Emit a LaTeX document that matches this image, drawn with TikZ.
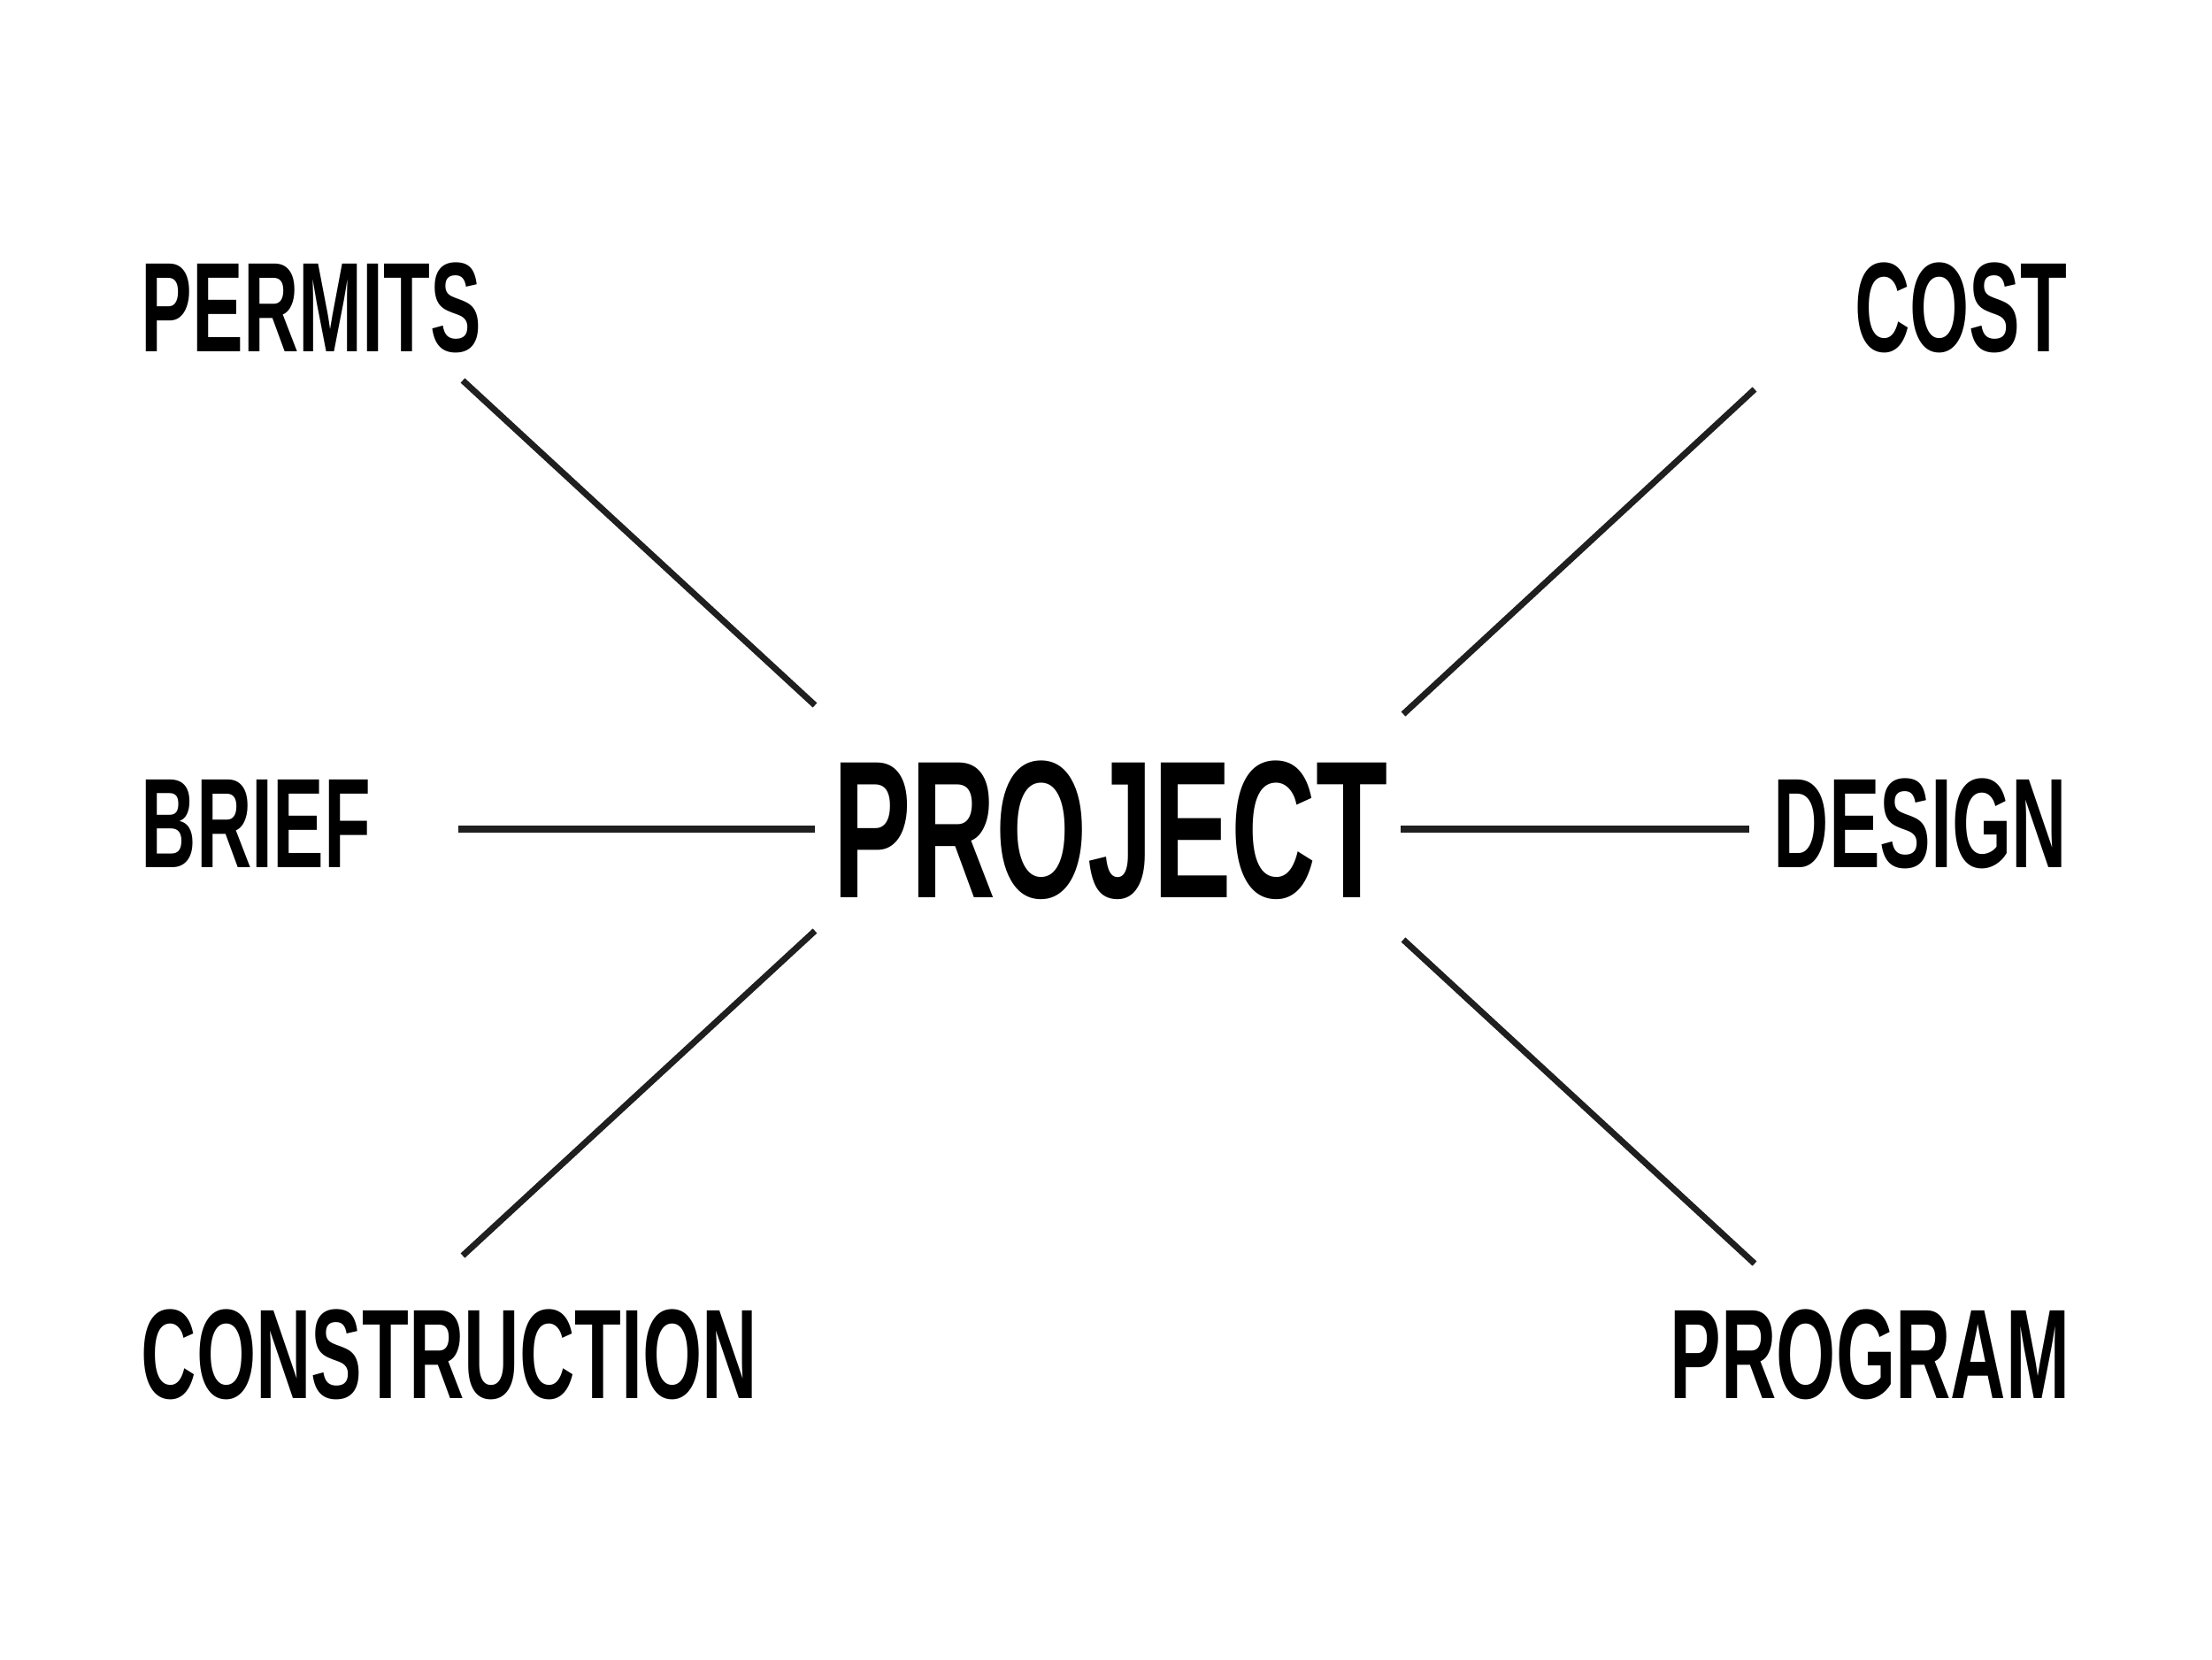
\documentclass[tikz,border=0pt]{standalone}
\usepackage{fontspec}
\newfontfamily\labelfont[FakeStretch=0.6]{Liberation Sans}
\usetikzlibrary{positioning}
\tikzset{
  lbl/.style={font=\labelfont\bfseries\fontsize{41}{41}\selectfont, inner sep=0pt},
  hub/.style={font=\labelfont\bfseries\fontsize{63}{63}\selectfont, inner sep=0pt},
  spoke/.style={line width=2pt, draw=black!88, line cap=butt}
}
\begin{document}
\begin{tikzpicture}
        \fill[white] (0,0) rectangle (25,18.75);
        \useasboundingbox (0,0) rectangle (25,18.75);
        % Labels
        \node[hub] (project) at (12.55,9.37) {PROJECT};
        \node[lbl, anchor=west] (permits) at (1.59,15.27) {PERMITS};
        \node[lbl, anchor=west] (brief) at (1.59,9.44) {BRIEF};
        \node[lbl, anchor=west] (construction) at (1.59,3.44) {CONSTRUCTION};
        \node[lbl, anchor=east] (cost) at (23.37,15.27) {COST};
        \node[lbl, anchor=east] (design) at (23.37,9.44) {DESIGN};
        \node[lbl, anchor=east] (program) at (23.40,3.44) {PROGRAM};
        % Spoke ends
        \coordinate (permits-out) at (5.23,14.45);
        \coordinate (permits-in) at (9.21,10.78);
        \coordinate (brief-out) at (5.18,9.38);
        \coordinate (brief-in) at (9.21,9.38);
        \coordinate (construction-out) at (5.23,4.56);
        \coordinate (construction-in) at (9.21,8.23);
        \coordinate (cost-out) at (19.83,14.35);
        \coordinate (cost-in) at (15.86,10.68);
        \coordinate (design-out) at (19.77,9.38);
        \coordinate (design-in) at (15.83,9.38);
        \coordinate (program-out) at (19.83,4.47);
        \coordinate (program-in) at (15.86,8.13);
        % Spokes
        \foreach \s in {permits,brief,construction,cost,design,program}
            \draw[spoke] (\s-out) -- (\s-in);
\end{tikzpicture}
\end{document}
